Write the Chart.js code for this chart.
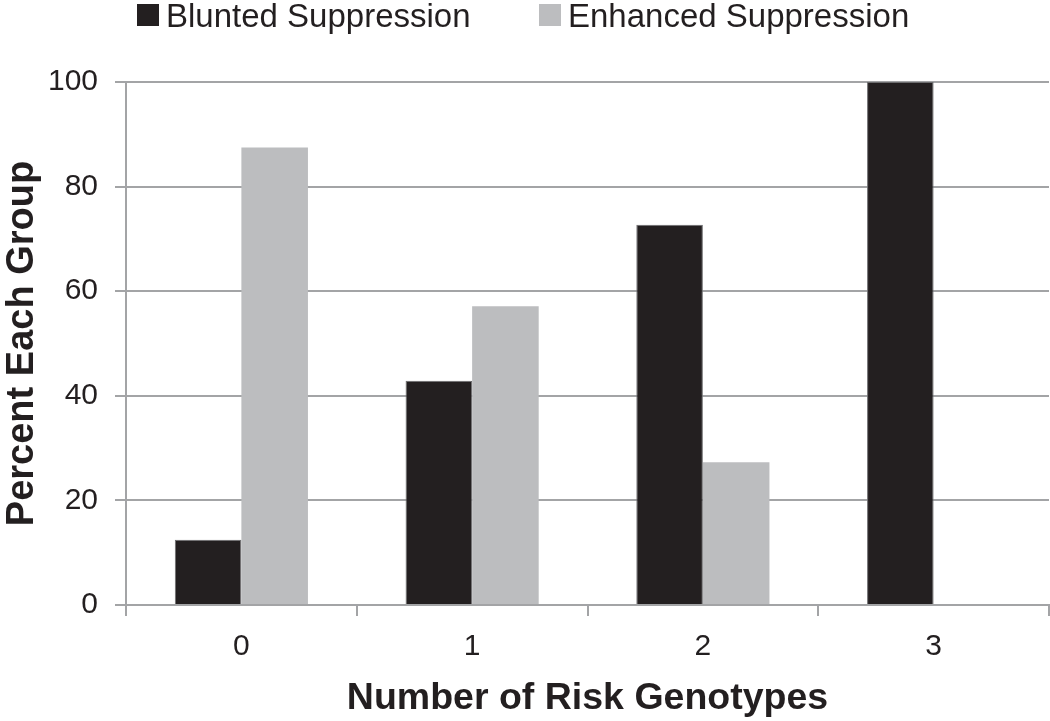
<!DOCTYPE html>
<html>
<head>
<meta charset="utf-8">
<script src="https://cdn.jsdelivr.net/npm/chart.js@4/dist/chart.umd.min.js"></script>
<style>
  html, body { margin: 0; padding: 0; background: #fff; }
  #wrap { position: relative; width: 1050px; height: 721px; }
  #legenda { position: absolute; top: -1px; left: 0; width: 1050px; height: 33px;
    font-family: "Liberation Sans", Arial, Helvetica, sans-serif; font-size: 33px; line-height: 33px; color: #231f20; }
  #legenda .item { position: absolute; top: 0; white-space: nowrap; }
  #legenda .caixa { position: absolute; top: 5px; width: 22px; height: 22px; }
</style>
</head>
<body>
<div id="wrap">
  <canvas id="grafico" width="1050" height="721"></canvas>
  <div id="legenda"></div>
</div>
<script>
// dados
const categorias = ['0', '1', '2', '3'];
const blunted = [12.5, 42.9, 72.7, 100];
const enhanced = [87.5, 57.1, 27.3, 0];
const ticksY = [0, 20, 40, 60, 80, 100];

const fonte = '"Liberation Sans", Arial, Helvetica, sans-serif';
const corTexto = '#231f20';
const corGrade = '#a3a4a6';

const ctx = document.getElementById('grafico');

const grafico = new Chart(ctx, {
  type: 'bar',
  data: {
    labels: categorias,
    datasets: [{
      label: 'Blunted Suppression',
      data: blunted,
      backgroundColor: '#231f20',
      borderColor: '#6d6d6f',
      borderWidth: 1
    }, {
      label: 'Enhanced Suppression',
      data: enhanced,
      backgroundColor: '#bcbdbf',
      borderWidth: 0
    }]
  },
  options: {
    responsive: false,
    animation: false,
    layout: { padding: { top: 82, right: 1, left: 0, bottom: 0 } },
    datasets: { bar: { categoryPercentage: 0.577, barPercentage: 1 } },
    plugins: {
      legend: { display: false },
      tooltip: { enabled: false }
    },
    scales: {
      x: {
        grid: { drawOnChartArea: false, drawTicks: true, tickLength: 11, color: corGrade, lineWidth: 2 },
        border: { color: corGrade, width: 2 },
        ticks: { color: corTexto, font: { family: fonte, size: 30 }, padding: 13 },
        title: { display: true, text: 'Number of Risk Genotypes', color: corTexto,
          font: { family: fonte, size: 37.5, weight: 'bold' }, padding: 0 },
        afterFit: function (s) { s.height = 116; }
      },
      y: {
        min: 0,
        max: 100,
        afterBuildTicks: function (s) { s.ticks = ticksY.map(v => ({ value: v })); },
        grid: { color: corGrade, lineWidth: 2, tickLength: 11 },
        border: { color: corGrade, width: 2 },
        ticks: { color: corTexto, font: { family: fonte, size: 30 }, padding: 17 },
        title: { display: true, text: 'Percent Each Group', color: corTexto,
          font: { family: fonte, size: 38, weight: 'bold' }, padding: 0 },
        afterFit: function (s) { s.width = 126; }
      }
    }
  }
});

// legenda em HTML montada a partir dos datasets
const posLegenda = [137, 539];
const legenda = document.getElementById('legenda');
grafico.data.datasets.forEach(function (ds, i) {
  const item = document.createElement('div');
  item.className = 'item';
  item.style.left = posLegenda[i] + 'px';
  const caixa = document.createElement('span');
  caixa.className = 'caixa';
  caixa.style.left = '0px';
  caixa.style.background = ds.backgroundColor;
  const texto = document.createElement('span');
  texto.textContent = ds.label;
  texto.style.marginLeft = '29px';
  item.appendChild(caixa);
  item.appendChild(texto);
  legenda.appendChild(item);
});
</script>
</body>
</html>
